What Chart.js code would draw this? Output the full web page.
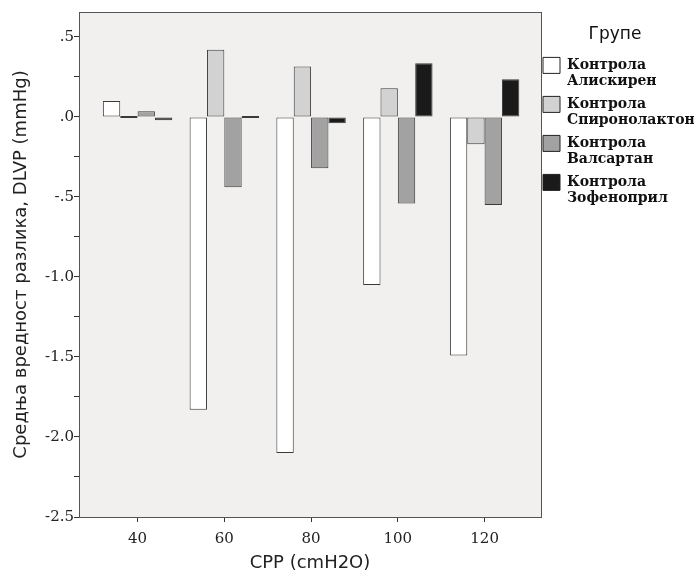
<!DOCTYPE html>
<html>
<head>
<meta charset="utf-8">
<script src="https://cdn.jsdelivr.net/npm/chart.js@4.4.1/dist/chart.umd.min.js"></script>
<style>
  html, body { margin: 0; padding: 0; background: #fff; }
  #wrap { width: 699px; height: 578px; }
</style>
</head>
<body>
<div id="wrap"><canvas id="myChart" width="699" height="578"></canvas></div>
<script>
// CPP levels (cmH2O)
const categories = [40, 60, 80, 100, 120];

// mean difference DLVP (mmHg), one array per group
const aliskiren = [0.10, -1.83, -2.10, -1.05, -1.49];
const spironolakton = [0.00, 0.42, 0.315, 0.18, -0.17];
const valsartan = [0.035, -0.44, -0.32, -0.54, -0.55];
const zofenopril = [-0.02, 0.00, -0.04, 0.335, 0.235];

const seriesNames = [
    ['Контрола', 'Алискирен'],
    ['Контрола', 'Спиронолактон'],
    ['Контрола', 'Валсартан'],
    ['Контрола', 'Зофеноприл']
];
const seriesColors = ['#ffffff', '#d2d2d2', '#a2a2a2', '#1a1a1a'];

const yTickValues = [-2.5, -2.25, -2.0, -1.75, -1.5, -1.25, -1.0, -0.75, -0.5, -0.25, 0, 0.25, 0.5];

function fmtTick(v) {
    if (Math.abs(v * 2 - Math.round(v * 2)) > 1e-6) return '';
    let s = v.toFixed(1);
    if (s === '-0.0') s = '0.0';
    return s.replace('0.', '.');
}

const plotFrame = {
    id: 'plotFrame',
    afterLayout(chart) {
        // pull the legend a bit closer to the plot frame
        chart.legend.left -= 5;
        chart.legend.right -= 5;
    },
    beforeDatasetsDraw(chart) {
        const a = chart.chartArea;
        const ctx = chart.ctx;
        ctx.save();
        ctx.fillStyle = '#f1f0ef';
        ctx.fillRect(a.left, a.top, a.right - a.left, a.bottom - a.top);
        ctx.restore();
    },
    afterDatasetsDraw(chart) {
        const a = chart.chartArea;
        const ctx = chart.ctx;
        ctx.save();
        ctx.strokeStyle = '#555';
        ctx.lineWidth = 1;
        ctx.strokeRect(a.left + 0.5, a.top + 0.5, a.right - a.left, a.bottom - a.top);
        ctx.restore();
    }
};

const allSeries = [aliskiren, spironolakton, valsartan, zofenopril];

const myChart = new Chart(document.getElementById('myChart'), {
    type: 'bar',
    data: {
        labels: categories,
        datasets: allSeries.map((vals, i) => ({
            label: seriesNames[i].join(' '),
            data: vals,
            backgroundColor: seriesColors[i],
            borderColor: '#3a3a3a',
            borderWidth: 1,
            borderSkipped: false,
            minBarLength: 2,
            barPercentage: 1,
            categoryPercentage: 0.8
        }))
    },
    options: {
        responsive: false,
        animation: false,
        layout: { padding: { top: 12, right: 0 } },
        plugins: {
            tooltip: { enabled: false },
            legend: {
                position: 'right',
                align: 'start',
                maxWidth: 158,
                title: {
                    display: true,
                    text: 'Групе',
                    color: '#111',
                    font: { family: 'DejaVu Sans', size: 17 },
                    padding: { top: 14, bottom: 4 }
                },
                labels: {
                    boxWidth: 17,
                    boxHeight: 16,
                    padding: 7,
                    color: '#111',
                    font: { family: 'DejaVu Serif', size: 14, weight: 'bold', lineHeight: '16px' },
                    generateLabels(chart) {
                        return chart.data.datasets.map((ds, i) => ({
                            text: seriesNames[i],
                            fillStyle: seriesColors[i],
                            strokeStyle: '#222',
                            lineWidth: 1,
                            hidden: false,
                            datasetIndex: i
                        }));
                    }
                }
            }
        },
        scales: {
            x: {
                type: 'linear',
                offset: false,
                min: 26.5,
                max: 133,
                afterBuildTicks(scale) {
                    scale.ticks = categories.map(v => ({ value: v }));
                },
                afterFit(scale) { scale.height = 61; },
                grid: { display: true, offset: false, drawOnChartArea: false, drawTicks: true, tickLength: 5, color: '#333' },
                border: { display: true, color: '#333' },
                ticks: {
                    color: '#222',
                    padding: 8,
                    font: { family: 'DejaVu Serif', size: 15 },
                    callback: v => String(v)
                },
                title: {
                    display: true,
                    text: 'CPP (cmH2O)',
                    color: '#222',
                    font: { family: 'DejaVu Sans', size: 18 },
                    padding: { top: 0 }
                }
            },
            y: {
                min: -2.5,
                max: 0.656,
                afterBuildTicks(scale) {
                    scale.ticks = yTickValues.map(v => ({ value: v }));
                },
                afterFit(scale) { scale.width = 79; },
                grid: { display: true, drawOnChartArea: false, drawTicks: true, tickLength: 5, color: '#333' },
                border: { display: true, color: '#333' },
                ticks: {
                    color: '#222',
                    padding: 0,
                    font: { family: 'DejaVu Serif', size: 15 },
                    callback: v => fmtTick(v)
                },
                title: {
                    display: true,
                    text: 'Средња вредност разлика, DLVP (mmHg)',
                    color: '#222',
                    font: { family: 'DejaVu Sans', size: 18 },
                    padding: { top: 11, bottom: 6 }
                }
            }
        }
    },
    plugins: [plotFrame]
});
</script>
</body>
</html>
